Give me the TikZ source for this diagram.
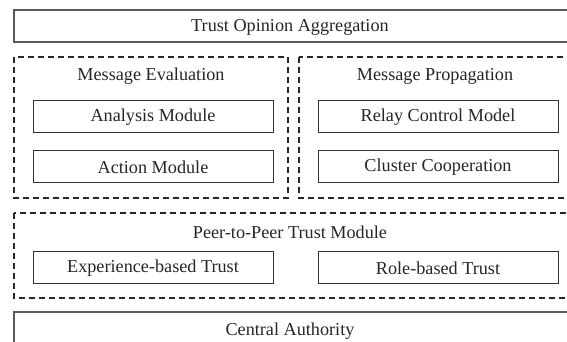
\documentclass[tikz,border=0pt]{standalone}
\usepackage{fontspec}
\setmainfont{Liberation Serif}
\begin{document}
\begin{tikzpicture}[x=1pt,y=-1pt,
  solidbox/.style={draw=black!80,line width=0.9pt},
  outerbox/.style={draw=black!65,line width=1.2pt},
  dashbox/.style={draw=black!85,line width=1.2pt,dash pattern=on 6pt off 4pt},
  lbl/.style={font=\fontsize{18.2}{21}\selectfont,text=black!85,inner sep=0pt}]
\useasboundingbox (0,0) rectangle (567,341);
% top layer
\draw[outerbox] (14,10) rectangle (590,42);
\node[lbl] (toa) at (290,27) {Trust Opinion Aggregation};
% Message evaluation
\draw[dashbox] (14,57) rectangle (288,198);
\node[lbl] (me) at (151,76) {Message Evaluation};
\draw[solidbox] (33,100) rectangle (273,132);
\node[lbl] (am) at (153,117) {Analysis Module};
\draw[solidbox] (33,150) rectangle (273,182);
\node[lbl] (acm) at (153,167) {Action Module};
% Message propagation
\draw[dashbox] (299,57) rectangle (590,198);
\node[lbl] (mp) at (435,76) {Message Propagation};
\draw[solidbox] (318,100) rectangle (558,132);
\node[lbl] (rcm) at (438,117) {Relay Control Model};
\draw[solidbox] (318,150) rectangle (558,182);
\node[lbl] (cc) at (438,167) {Cluster Cooperation};
% Peer to peer
\draw[dashbox] (14,213) rectangle (590,298);
\node[lbl] (p2p) at (290,232) {Peer-to-Peer Trust Module};
\draw[solidbox] (33,251) rectangle (273,283);
\node[lbl] (ebt) at (153,268) {Experience-based Trust};
\draw[solidbox] (318,251) rectangle (558,283);
\node[lbl] (rbt) at (438,268) {Role-based Trust};
% central authority
\draw[outerbox,line width=1.6pt] (14,312) rectangle (590,360);
\node[lbl] (ca) at (290,331) {Central Authority};
\end{tikzpicture}
\end{document}
